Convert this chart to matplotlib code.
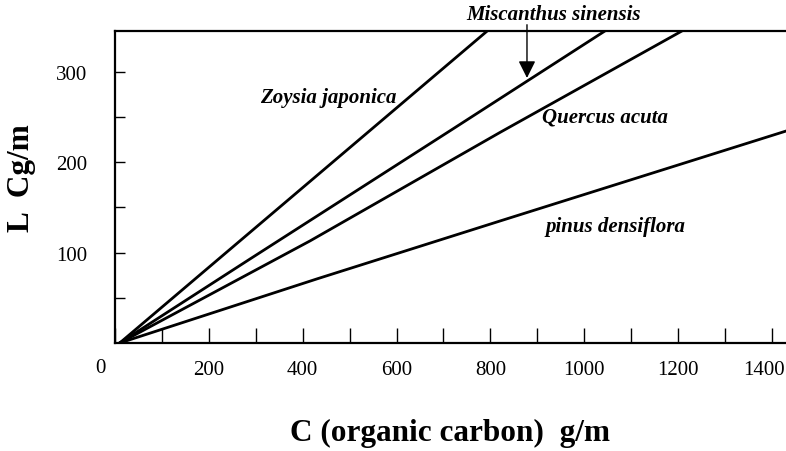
import matplotlib.pyplot as plt
from matplotlib.transforms import ScaledTranslation

# Valores (C em g/m, L em Cg/m)
zoysia_x = [10, 271, 548, 800]
zoysia_y = [0, 115, 237, 348]
miscanthus_x = [10, 288, 721, 1050]
miscanthus_y = [0, 93, 237, 347]
quercus_x = [10, 416, 821, 1215]
quercus_y = [0, 113, 233, 347]
pinus_x = [10, 431, 821, 1440]
pinus_y = [0, 71, 135, 236]

x_ticks = [0, 200, 400, 600, 800, 1000, 1200, 1400]
x_minor = [100, 300, 500, 700, 900, 1100, 1300]
y_ticks = [100, 200, 300]
y_minor = [50, 150, 250]

plt.rcParams['font.family'] = ['Liberation Serif', 'DejaVu Serif']

fig = plt.figure(figsize=(7.86, 4.52), dpi=100)
ax = fig.add_axes([0.1463, 0.2389, 0.8537, 0.6903])

for xs, ys in [(zoysia_x, zoysia_y), (miscanthus_x, miscanthus_y),
               (quercus_x, quercus_y), (pinus_x, pinus_y)]:
    ax.plot(xs, ys, color='black', linewidth=2.0, clip_on=True)

ax.set_xlim(0, 1430)
ax.set_ylim(0, 345)

ax.spines['right'].set_visible(False)
for s in ['left', 'bottom', 'top']:
    ax.spines[s].set_linewidth(1.6)

ax.set_xticks(x_ticks)
ax.set_xticks(x_minor, minor=True)
ax.set_yticks(y_ticks)
ax.set_yticks(y_minor, minor=True)
ax.set_xticklabels(['' if v == 0 else str(v) for v in x_ticks], fontsize=15)
ax.set_yticklabels([str(v) for v in y_ticks], fontsize=15)
ax.tick_params(axis='x', which='both', direction='in', length=11, width=1, pad=12)
ax.tick_params(axis='y', which='both', direction='in', length=7, width=1, pad=20)

# o último rótulo fica um pouco para a esquerda, para caber
ultimo = ax.get_xticklabels()[-1]
ultimo.set_transform(ultimo.get_transform() + ScaledTranslation(-8 / 100, 0, fig.dpi_scale_trans))

# o "0" fica deslocado para a esquerda no original
ax.text(-30, -27, '0', fontsize=15, ha='center', va='center', clip_on=False)

lab = dict(fontsize=15, fontweight='bold', fontstyle='italic', ha='center', va='center')
ax.text(455, 272, 'Zoysia japonica', **lab)
ax.text(1045, 251, 'Quercus acuta', **lab)
ax.text(1066, 129, 'pinus densiflora', **lab)
ax.text(935, 364, 'Miscanthus sinensis', clip_on=False, **lab)
ax.annotate('', xy=(878, 290), xytext=(878, 355),
            arrowprops=dict(arrowstyle='-|>', color='black', lw=1, mutation_scale=26),
            annotation_clip=False)

fig.text(450 / 786, 1 - 433 / 452, 'C (organic carbon)  g/m', fontsize=22.5,
         fontweight='bold', ha='center', va='center')
fig.text(22 / 786, 1 - 178 / 452, 'L  Cg/m', fontsize=22.5, fontweight='bold',
         rotation=90, ha='center', va='center')

fig.savefig('out.png', dpi=100)
